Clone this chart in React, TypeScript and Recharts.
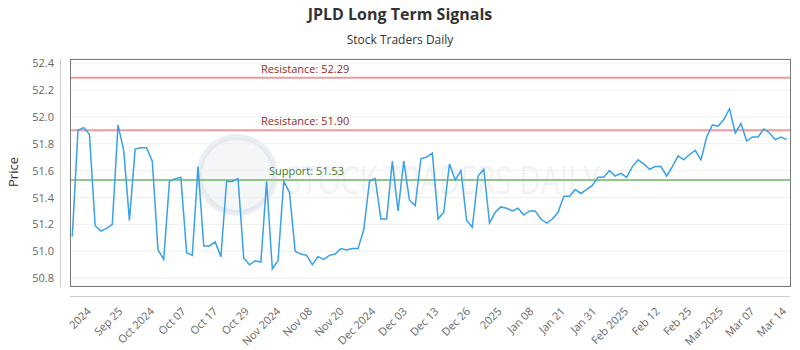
import React from 'react';
import { LineChart, Line, XAxis, YAxis, CartesianGrid, ReferenceLine } from 'recharts';

// closing prices, one per trading day
const prices = [
   51.11, 51.90, 51.92, 51.87, 51.19, 51.15, 51.17, 51.20, 51.94, 51.75,
   51.23, 51.76, 51.77, 51.77, 51.67, 51.01, 50.94, 51.52, 51.54, 51.55,
   50.99, 50.97, 51.63, 51.04, 51.04, 51.07, 50.96, 51.52, 51.52, 51.54,
   50.95, 50.90, 50.93, 50.92, 51.52, 50.87, 50.93, 51.52, 51.44, 51.00,
   50.98, 50.97, 50.90, 50.96, 50.94, 50.97, 50.98, 51.02, 51.01, 51.02,
   51.02, 51.16, 51.52, 51.54, 51.24, 51.24, 51.67, 51.30, 51.67, 51.38,
   51.34, 51.69, 51.70, 51.73, 51.24, 51.29, 51.65, 51.53, 51.60, 51.23,
   51.18, 51.56, 51.61, 51.21, 51.29, 51.33, 51.32, 51.30, 51.32, 51.27,
   51.30, 51.30, 51.24, 51.21, 51.24, 51.29, 51.41, 51.41, 51.46, 51.43,
   51.46, 51.49, 51.55, 51.55, 51.60, 51.56, 51.58, 51.55, 51.63, 51.68,
   51.65, 51.61, 51.63, 51.63, 51.56, 51.63, 51.71, 51.68, 51.72, 51.75,
   51.68, 51.85, 51.94, 51.93, 51.98, 52.06, 51.88, 51.95, 51.82, 51.85,
   51.85, 51.91, 51.88, 51.83, 51.85, 51.83,
];

const tickLabels = [
   '2024', 'Sep 25', 'Oct 2024', 'Oct 07', 'Oct 17', 'Oct 29', 'Nov 2024', 'Nov 08',
   'Nov 20', 'Dec 2024', 'Dec 03', 'Dec 13', 'Dec 26', '2025', 'Jan 08', 'Jan 21',
   'Jan 31', 'Feb 2025', 'Feb 12', 'Feb 25', 'Mar 2025', 'Mar 07', 'Mar 14',
];

const yTicks = [50.8, 51.0, 51.2, 51.4, 51.6, 51.8, 52.0, 52.2, 52.4];

const resistanceHigh = 52.29;
const resistanceLow = 51.90;
const support = 51.53;

const data = prices.map((price, i) => ({ i, price }));

// labels are spread evenly along the axis
const tickStart = 3.4;
const tickStep = 5.529;
const tickPos = tickLabels.map((_, k) => tickStart + k * tickStep);

const XTick = (props: any) => {
   const { x, payload } = props;
   const k = tickPos.indexOf(payload.value);
   return (
      <text x={x} y={312} textAnchor="end" fontSize={11} fill="#666" transform={`rotate(-45, ${x}, 312)`}>
         {tickLabels[k]}
      </text>
   );
};

const YTick = (props: any) => {
   const { y, payload } = props;
   return (
      <text x={54} y={y} dy={4} textAnchor="end" fontSize={11} fill="#666">
         {payload.value.toFixed(1)}
      </text>
   );
};

const RefLabel = (props: any) => {
   const { viewBox, text, color, dx } = props;
   return (
      <text x={viewBox.x + dx} y={viewBox.y - 5} fontSize={11} fill={color}>
         {text}
      </text>
   );
};

const App = () => {
   return (
      <div style={{ position: 'relative', width: 800, height: 350, fontFamily: '"Open Sans", sans-serif' }}>
         <style>{'body { margin: 0; }'}</style>

         {/* watermark */}
         <svg width={800} height={350} style={{ position: 'absolute', left: 0, top: 0 }}>
            <circle cx={237} cy={175} r={38} fill="rgba(205,215,225,0.22)" stroke="rgba(205,215,225,0.4)" strokeWidth={6} />
            <text x={285} y={194} fontSize={38} textLength={315} lengthAdjust="spacingAndGlyphs" fill="rgba(195,205,215,0.25)">
               STOCK TRADERS DAILY
            </text>
         </svg>

         <div style={{ position: 'absolute', top: 4, width: 800, textAlign: 'center', fontSize: 16, lineHeight: '20px', fontWeight: 'bold', color: '#333' }}>
            JPLD Long Term Signals
         </div>
         <div style={{ position: 'absolute', top: 32, width: 800, textAlign: 'center', fontSize: 12, lineHeight: '16px', color: '#333' }}>
            Stock Traders Daily
         </div>

         <div style={{ position: 'absolute', left: 0, top: 0 }}>
            <LineChart width={800} height={350} data={data} margin={{ top: 59, right: 10, left: 0, bottom: 0 }}>
               <CartesianGrid vertical={false} stroke="#f0f0f0" />
               <XAxis
                  type="number"
                  dataKey="i"
                  domain={[-0.4, 125.58]}
                  ticks={tickPos}
                  interval={0}
                  tick={<XTick />}
                  axisLine={false}
                  tickLine={false}
                  height={64}
               />
               <YAxis
                  domain={[50.742, 52.43]}
                  ticks={yTicks}
                  interval={0}
                  width={70}
                  tick={<YTick />}
                  axisLine={false}
                  tickLine={false}
                  label={(p: any) => (
                     <text x={18} y={172} textAnchor="middle" fontSize={13} fill="#333" transform="rotate(-90, 18, 172)">
                        Price
                     </text>
                  )}
               />
               <ReferenceLine y={resistanceHigh} stroke="#eb9c9c" strokeWidth={2}
                  label={<RefLabel text={`Resistance: ${resistanceHigh.toFixed(2)}`} color="#8b2b2b" dx={191} />} />
               <ReferenceLine y={resistanceLow} stroke="#eb9c9c" strokeWidth={2}
                  label={<RefLabel text={`Resistance: ${resistanceLow.toFixed(2)}`} color="#8b2b2b" dx={191} />} />
               <ReferenceLine y={support} stroke="#90c68a" strokeWidth={2}
                  label={<RefLabel text={`Support: ${support.toFixed(2)}`} color="#3d7a2d" dx={199} />} />
               <Line
                  type="linear"
                  dataKey="price"
                  stroke="#38a1e8"
                  strokeWidth={1.5}
                  dot={false}
                  isAnimationActive={false}
               />
            </LineChart>
         </div>

         {/* plot frame and offset axis lines */}
         <div style={{ position: 'absolute', left: 70, top: 59, width: 719, height: 226, border: '1px solid #777', pointerEvents: 'none' }} />
         <div style={{ position: 'absolute', left: 60, top: 59, width: 1, height: 228, background: '#ccc' }} />
         <div style={{ position: 'absolute', left: 70, top: 296, width: 720, height: 1, background: '#ccc' }} />
      </div>
   );
};

export default App;
